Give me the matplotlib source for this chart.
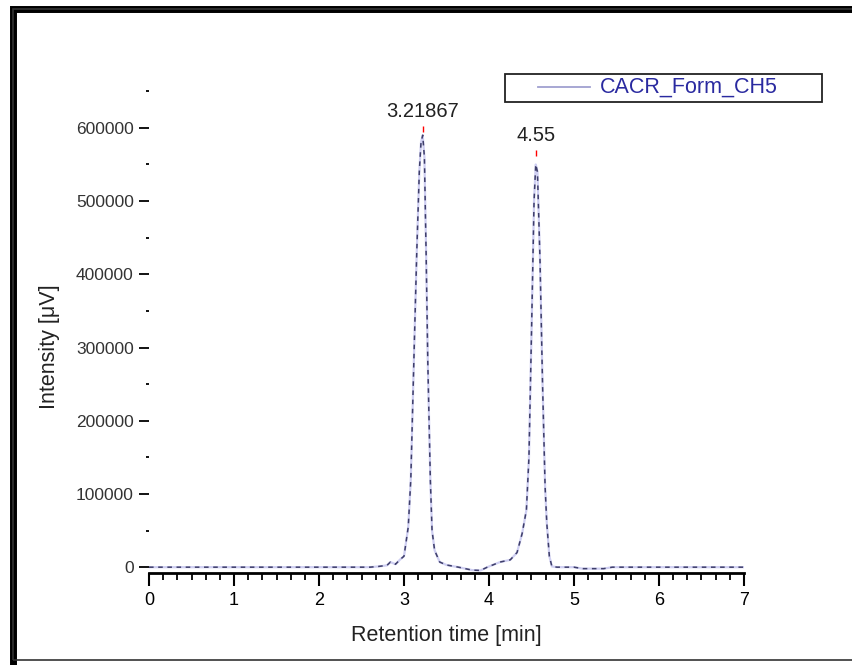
"""
Chromatogram of CACR_Form_CH5 (retention time vs. intensity)
"""

import numpy as np
import matplotlib
matplotlib.use('Agg')
import matplotlib.pyplot as plt
from matplotlib.ticker import MultipleLocator
from matplotlib.patches import Rectangle
from matplotlib.lines import Line2D

#---------------------------------------------------------------------------------------------------
# Data
#---------------------------------------------------------------------------------------------------

ret_time = [0.0, 2.6, 2.7, 2.8, 2.84, 2.9, 2.95, 3.0, 3.05, 3.08, 3.12, 3.15, 3.18, 3.2, 3.22,
            3.24, 3.26, 3.28, 3.31, 3.33, 3.36, 3.42, 3.5, 3.64, 3.8, 3.9, 3.98, 4.13, 4.25,
            4.33, 4.39, 4.44, 4.47, 4.5, 4.53, 4.55, 4.57, 4.6, 4.63, 4.66, 4.68, 4.71, 4.74,
            4.8, 5.0, 5.1, 5.35, 5.45, 7.0]
intensity = [0, 0, 1000, 2500, 7000, 4000, 10000, 15000, 55000, 120000, 300000, 430000, 540000,
             580000, 590000, 560000, 430000, 280000, 119000, 50000, 23000, 7000, 3000, 0, -4000,
             -4500, 0, 7000, 10000, 20000, 46000, 78000, 150000, 320000, 500000, 550000, 540000,
             420000, 250000, 110000, 60000, 15000, 1000, 0, 0, -2000, -2000, 0, 0]

peak_times = [3.21867, 4.55]
peak_heights = [593000, 560000]
peak_labels = ['3.21867', '4.55']

series_name = 'CACR_Form_CH5'

#---------------------------------------------------------------------------------------------------
# Make Plot
#---------------------------------------------------------------------------------------------------

plt.rcParams['font.family'] = ['Liberation Sans', 'DejaVu Sans']

fig = plt.figure(figsize=(8.53, 6.65), dpi=100)
ax = fig.add_axes([0.1747, 0.1383, 0.6975, 0.7685])

# Faint trace with darker dashes on top (scanned look)
ax.plot(ret_time, intensity, color='#cfcff2', lw=1.6)
ax.plot(ret_time, intensity, color='#3e3e6a', lw=1.1, dashes=(3, 3))
ax.plot(peak_times, np.array(peak_heights) + 6000, ls='none', marker='|', color='red', ms=5, mew=1)
for t, h, lab in zip(peak_times, peak_heights, peak_labels):
    ax.text(t, h + 17000, lab, ha='center', va='bottom', fontsize=14.5, color='#222222')

ax.set_xlim(0, 7)
ax.set_ylim(-8000, 690000)
ax.xaxis.set_major_locator(MultipleLocator(1))
ax.xaxis.set_minor_locator(MultipleLocator(1/6))
ax.yaxis.set_minor_locator(MultipleLocator(50000))
ax.set_yticks(range(0, 700000, 100000))

for s in ['top', 'right', 'left']:
    ax.spines[s].set_visible(False)
ax.spines['bottom'].set_linewidth(2)

ax.tick_params(axis='x', which='major', direction='out', length=9, width=1.5, labelsize=13, pad=5)
ax.tick_params(axis='x', which='minor', direction='out', length=5, width=1.3)
ax.tick_params(axis='y', which='major', direction='out', length=7, width=1.3, labelsize=12.5,
               pad=4, labelcolor='#333333')
ax.tick_params(axis='y', which='minor', direction='out', length=2, width=1.3)

ax.set_xlabel('Retention time [min]', size=15.5, color='#222222', labelpad=11)
ax.set_ylabel('Intensity [\u03bcV]', size=15.5, color='#222222')
ax.yaxis.set_label_coords(-0.150, 0.442)

# Legend box drawn in figure coords
fig.patches.append(Rectangle((0.592, 0.8466), 0.372, 0.0421, transform=fig.transFigure,
                             fill=False, edgecolor='#222222', lw=1.3, figure=fig))
fig.lines.append(Line2D([0.6307, 0.6917], [0.869, 0.869], transform=fig.transFigure,
                        color='#a0a0d0', lw=1.3, figure=fig))
fig.text(0.7034, 0.869, series_name, ha='left', va='center', fontsize=15.5, color='#2a2aa0')

# Thick black frame around the whole figure
fig.patches.append(Rectangle((0.015, -0.05), 1.1, 1.037, transform=fig.transFigure,
                             fill=False, edgecolor='black', lw=5, figure=fig))
fig.patches.append(Rectangle((0.015, 0.007), 1.1, 0.98, transform=fig.transFigure,
                             fill=False, edgecolor='#333333', lw=1.2, figure=fig))

plt.savefig('out.png', dpi=100)
